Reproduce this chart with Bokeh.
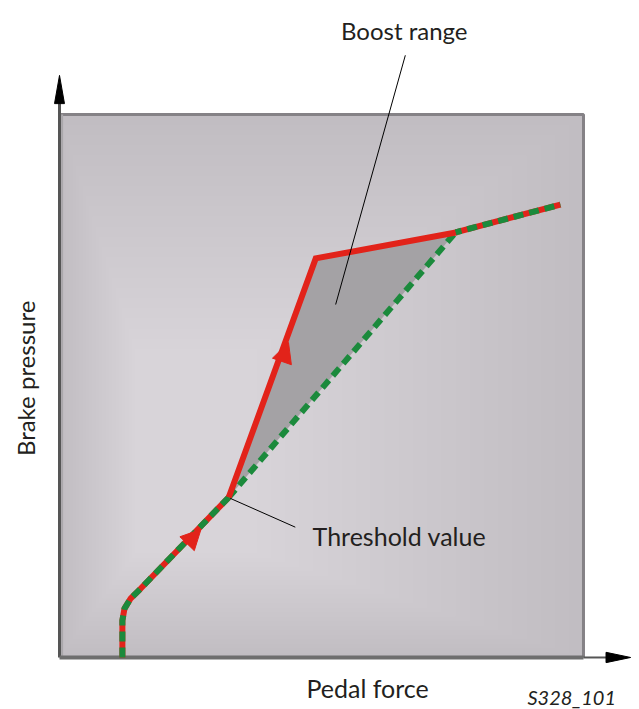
from bokeh.plotting import figure
from bokeh.models import Range1d, Arrow, NormalHead
from bokeh.core.properties import value
from bokeh.embed import file_html
from bokeh.resources import INLINE

# ---- data (chart units: box spans 0..100 on both axes) ----
lower_force = [12.0, 12.0, 12.4, 13.6, 15.5, 16.8, 32.3]
lower_pressure = [0.0, 6.8, 9.0, 10.9, 12.7, 14.0, 29.5]
boost_force = [32.3, 48.9, 75.6]
boost_pressure = [29.5, 73.5, 78.3]
nominal_force = [32.3, 75.6]
nominal_pressure = [29.5, 78.3]
upper_force = [75.6, 95.6]
upper_pressure = [78.3, 83.4]

arrow_lower = (23.0, 19.6, 27.0, 23.6)
arrow_boost = (41.4, 51.6, 43.7, 58.0)

labels = ["Boost range", "Threshold value", "Pedal force", "Brake pressure", "S328_101"]

RED = "#e2231a"
GREEN = "#1b8a3c"
FONT = value("Lato")
TXT = "#231f20"

p = figure(width=639, height=709,
           x_range=Range1d(-11.26, 110.69), y_range=Range1d(-9.58, 120.99),
           output_backend="svg", toolbar_location=None,
           x_axis_type=None, y_axis_type=None, min_border=0)
p.grid.visible = False
p.outline_line_color = None
p.background_fill_color = "white"
p.border_fill_color = "white"

# ---- box background with soft gradient ----
p.quad(left=[0], right=[100], bottom=[0], top=[100], fill_color="#c0bcc1", line_color=None)
steps = 24
for i in range(steps):
    f = i / steps
    l = 0 + f * 15
    r = 100 - f * 65
    b = 0 + f * 20
    t = 100 - f * 45
    p.quad(left=[l], right=[r], bottom=[b], top=[t], fill_color="white", fill_alpha=0.028, line_color=None)
# box frame (top and right darker)
p.line(x=[0, 100, 100], y=[100, 100, 0], line_color="#858286", line_width=3)
p.line(x=[0.5, 0.5], y=[0, 100], line_color="#a9a7aa", line_width=2)

# ---- axes with arrowheads ----
p.line(x=[0, 0], y=[0, 102.5], line_color="#555555", line_width=3)
p.patch(x=[-0.95, 0, 0.95], y=[102.0, 107.2, 102.0], fill_color="black", line_color="black")
p.line(x=[0, 100], y=[0, 0], line_color="#6e6e6e", line_width=4)
p.line(x=[100, 104.5], y=[0, 0], line_color="#555555", line_width=2)
p.patch(x=[104.3, 109.0, 104.3], y=[-0.95, 0, 0.95], fill_color="black", line_color="black")

# ---- boost range area ----
p.patch(x=boost_force, y=boost_pressure, fill_color="#a4a2a5", line_color=None)

# ---- curves ----
p.line(x=lower_force, y=lower_pressure, line_color=RED, line_width=6, line_join="round")
p.line(x=lower_force, y=lower_pressure, line_color=GREEN, line_width=6, line_dash="10 6")
p.line(x=nominal_force, y=nominal_pressure, line_color=GREEN, line_width=6, line_dash="10 6")
p.line(x=boost_force[:2] + [boost_force[2] + 0.3], y=boost_pressure[:2] + [boost_pressure[2]],
       line_color=RED, line_width=6, line_join="miter")
p.line(x=upper_force, y=upper_pressure, line_color=RED, line_width=6)
p.line(x=upper_force, y=upper_pressure, line_color=GREEN, line_width=6, line_dash="10 6", line_dash_offset=4)

for (xs, ys, xe, ye) in (arrow_lower, arrow_boost):
    p.add_layout(Arrow(end=NormalHead(size=20, fill_color=RED, line_color=RED),
                       x_start=xs, y_start=ys, x_end=xe, y_end=ye, line_alpha=0))

# ---- leader lines ----
p.line(x=[66.0, 52.7], y=[110.9, 65.0], line_color="black", line_width=1)
p.line(x=[32.6, 45.0], y=[29.3, 24.0], line_color="black", line_width=1)

# ---- texts ----
p.text(x=[65.8], y=[115.5], text=[labels[0]], text_font=FONT, text_font_size="24px",
       text_align="center", text_baseline="middle", text_color=TXT)
p.text(x=[48.3], y=[22.3], text=[labels[1]], text_font=FONT, text_font_size="25px",
       text_align="left", text_baseline="middle", text_color=TXT)
p.text(x=[58.8], y=[-5.7], text=[labels[2]], text_font=FONT, text_font_size="25px",
       text_align="center", text_baseline="middle", text_color=TXT)
p.text(x=[-6.5], y=[51.4], text=[labels[3]], text_font=FONT, text_font_size="24px",
       text_align="center", text_baseline="middle", angle=1.5708, text_color=TXT)
p.text(x=[89.3], y=[-7.3], text=[labels[4]], text_font=FONT, text_font_size="20px",
       text_font_style="italic", text_align="left", text_baseline="middle", text_color=TXT)

open("out.html", "w").write(file_html(p, INLINE))
